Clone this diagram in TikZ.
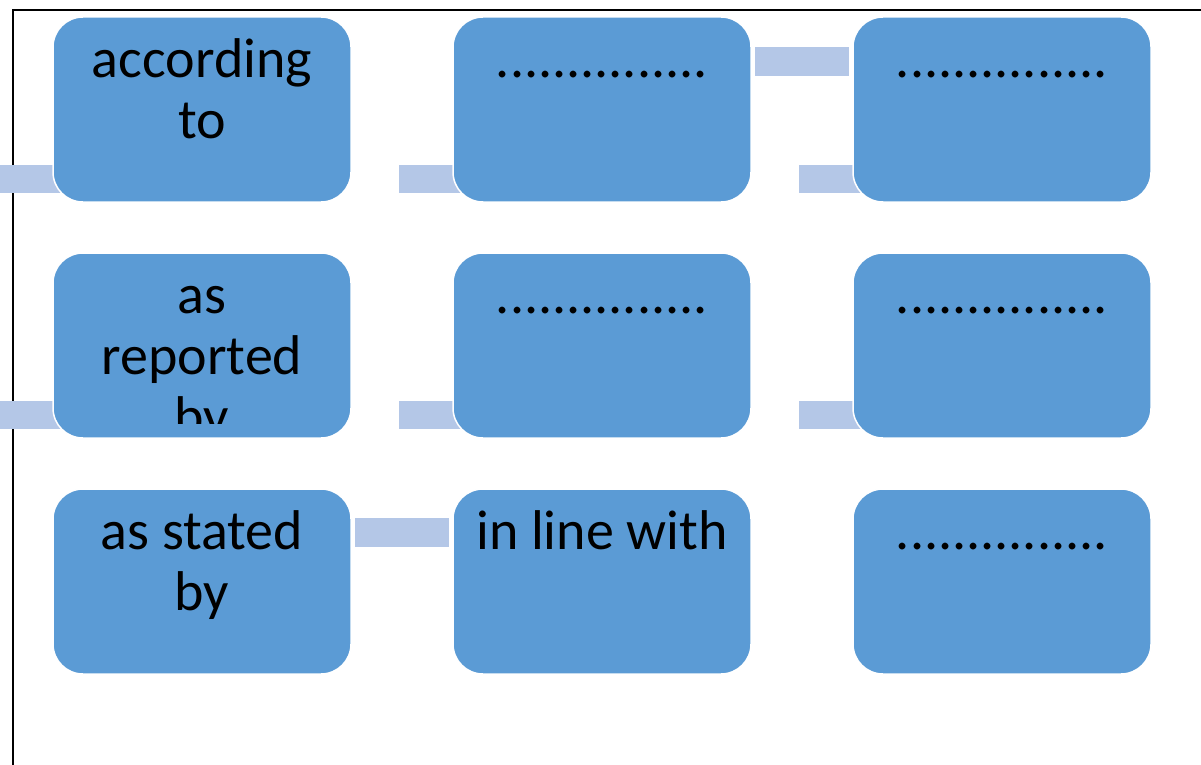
\documentclass[tikz,border=0pt]{standalone}
\usepackage{fontspec}
\setmainfont{Carlito}
\usetikzlibrary{calc,backgrounds}

\definecolor{boxblue}{RGB}{91,155,213}
\definecolor{barblue}{RGB}{180,199,231}
\newcommand{\tstrut}{\rule{0pt}{45pt}}

\begin{document}
\begin{tikzpicture}[x=1pt, y=-1pt, node distance={400pt},
	box/.style = {draw=white, line width=1.5pt, fill=boxblue, rounded corners=30pt,
		minimum width=298pt, minimum height=185pt, inner sep=0pt},
	lbl/.style = {anchor=north, inner sep=0pt, align=center, font=\fontsize{56}{61}\selectfont},
	bar/.style = {fill=barblue}]
\useasboundingbox (0,0) rectangle (1201,765);
% boxes
\node[box] (a1) at (202,109.5) {};
\node[box] (b1) [right of=a1] {};
\node[box] (c1) [right of=b1] {};
\node[box] (a2) at (202,345.5) {};
\node[box] (b2) [right of=a2] {};
\node[box] (c2) [right of=b2] {};
\node[box] (a3) at (202,581.5) {};
\node[box] (b3) [right of=a3] {};
\node[box] (c3) [right of=b3] {};
% labels
\node[lbl] (ta1) at ($(a1.north)+(0,16)$) {\tstrut according\\to};
\node[lbl] (tb1) at ($(b1.north)+(0,16)$) {\tstrut ...............};
\node[lbl] (tc1) at ($(c1.north)+(0,16)$) {\tstrut ...............};
\begin{scope}
	\clip (a2.north west) rectangle ($(a2.south east)+(0,-15)$);
	\node[lbl] (ta2) at ($(a2.north)+(0,16)$) {\tstrut as\\reported\\by};
\end{scope}
\node[lbl] (tb2) at ($(b2.north)+(0,16)$) {\tstrut ...............};
\node[lbl] (tc2) at ($(c2.north)+(0,16)$) {\tstrut ...............};
\node[lbl] (ta3) at ($(a3.north)+(0,16)$) {\tstrut as stated\\by};
\node[lbl] (tb3) at ($(b3.north)+(0,16)$) {\tstrut in line with};
\node[lbl] (tc3) at ($(c3.north)+(0,16)$) {\tstrut ...............};
% frame and connectors behind
\begin{pgfonlayer}{background}
\draw[line width=2pt] (1201,10) -- (13,10) -- (13,765);
\foreach \n in {a1,b1,c1,a2,b2,c2}
	\fill[bar] ($(\n.north west)+(-53,149)$) rectangle ($(\n.north west)+(20,177)$);
\fill[bar] ($(b1.north east)+(3,31)$) rectangle ($(c1.north west)+(-3,60)$);
\fill[bar] ($(a3.north east)+(3,30)$) rectangle ($(b3.north west)+(-3,59)$);
\end{pgfonlayer}
\end{tikzpicture}
\end{document}
